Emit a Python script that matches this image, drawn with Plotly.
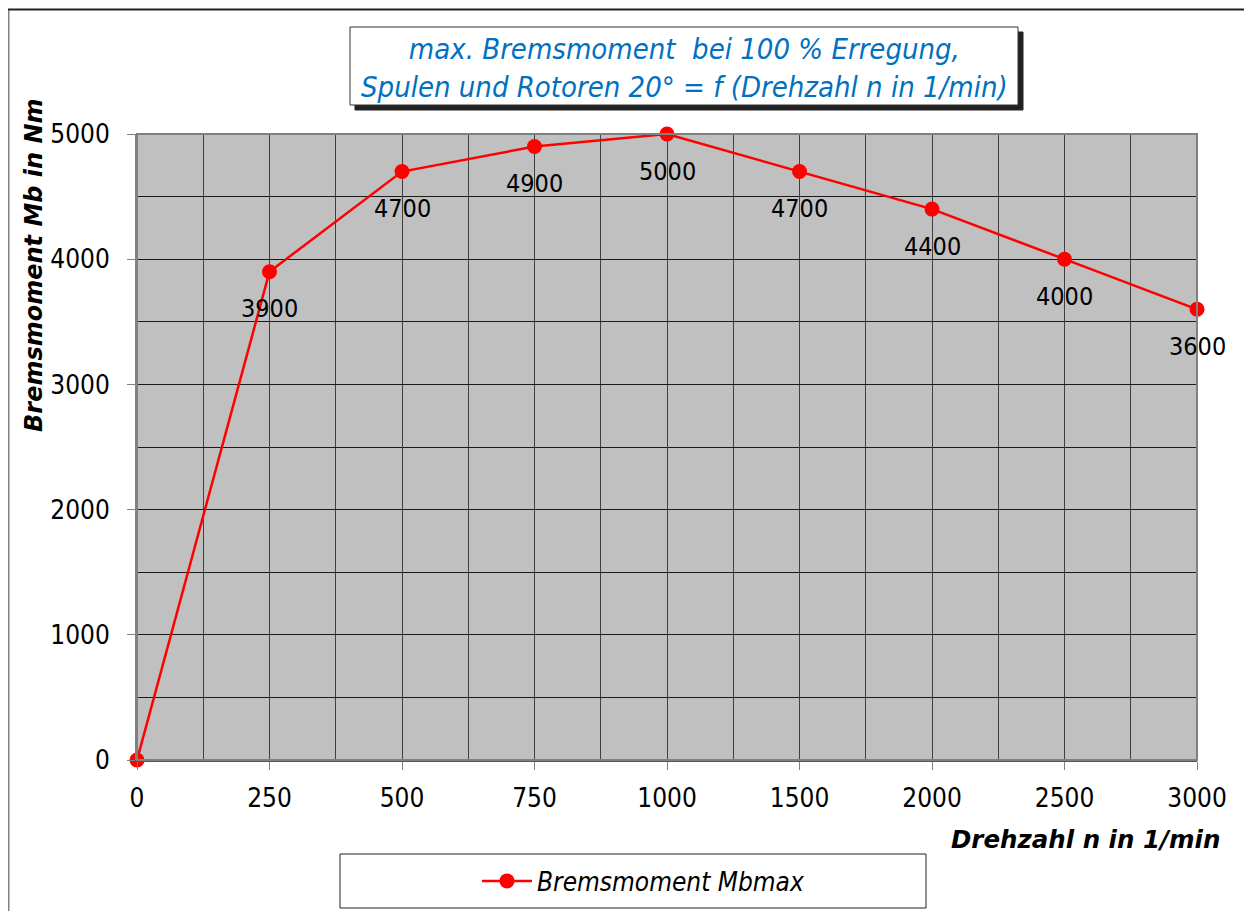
import plotly.graph_objects as go

categories = ["0", "250", "500", "750", "1000", "1500", "2000", "2500", "3000"]
torque = [0, 3900, 4700, 4900, 5000, 4700, 4400, 4000, 3600]
series_name = "Bremsmoment Mbmax"
title_lines = ["max. Bremsmoment  bei 100 % Erregung,", "Spulen und Rotoren 20° = f (Drehzahl n in 1/min)"]
x_title = "Drehzahl n in 1/min"
y_title = "Bremsmoment Mb in Nm"

FONT = "DejaVu Sans Condensed, DejaVu Sans, sans-serif"
FONT_B = "DejaVu Sans, sans-serif"
# page offset (body margin)
OX, OY = 8, 8
W, H = 1252 - 2 * OX, 919 - 2 * OY
# plot area in screen pixels
L, R, T, B = 137, 1197, 134, 760

def px(x):
    return (x - L) / (R - L)

def py(y):
    return (B - y) / (B - T)

xs = list(range(len(categories)))

fig = go.Figure()
fig.add_trace(go.Scatter(
    x=xs, y=torque, mode="lines+markers", name=series_name,
    line=dict(color="#FF0000", width=2.5),
    marker=dict(color="#FF0000", size=15),
    cliponaxis=False,
))

for xi, v in zip(xs, torque):
    if v == 0:
        continue
    fig.add_annotation(x=xi, y=v, text=str(v), showarrow=False, yshift=-37,
                       xanchor="center", yanchor="middle",
                       font=dict(family=FONT, size=25, color="black"))

shapes = []
# outer border
shapes.append(dict(type="line", xref="paper", yref="paper",
                   x0=px(8.5), x1=px(8.5), y0=py(9), y1=py(919),
                   line=dict(color="#808080", width=2)))
shapes.append(dict(type="line", xref="paper", yref="paper",
                   x0=px(8), x1=px(1252), y0=py(9.5), y1=py(9.5),
                   line=dict(color="#222222", width=2)))
# title box shadow and box
shapes.append(dict(type="rect", xref="paper", yref="paper",
                   x0=px(355), x1=px(1023), y0=py(32), y1=py(110),
                   line=dict(color="#222222", width=1), fillcolor="#222222"))
shapes.append(dict(type="rect", xref="paper", yref="paper",
                   x0=px(350), x1=px(1018), y0=py(27), y1=py(105),
                   line=dict(color="#333333", width=1), fillcolor="white"))
# legend box
shapes.append(dict(type="rect", xref="paper", yref="paper",
                   x0=px(340), x1=px(926), y0=py(854), y1=py(908),
                   line=dict(color="#222222", width=1), fillcolor="white"))
# plot area border (gray)
shapes.append(dict(type="rect", xref="paper", yref="paper",
                   x0=0, x1=1, y0=0, y1=1,
                   line=dict(color="#808080", width=2), fillcolor="rgba(0,0,0,0)", layer="above"))

fig.update_layout(shapes=shapes)

fig.add_annotation(xref="paper", yref="paper", x=px(684), y=py(68),
                   xanchor="center", yanchor="middle",
                   text="<i>" + "<br>".join(title_lines) + "</i>", showarrow=False,
                   font=dict(family=FONT, size=29, color="#0070C0"), align="center")
fig.add_annotation(xref="paper", yref="paper", x=px(1222), y=py(839),
                   xanchor="right", yanchor="middle",
                   text="<b><i>" + x_title + "</i></b>", showarrow=False,
                   font=dict(family=FONT_B, size=24.5, color="black"))
fig.add_annotation(xref="paper", yref="paper", x=px(34), y=py(265), textangle=-90,
                   xanchor="center", yanchor="middle",
                   text="<b><i>" + y_title + "</i></b>", showarrow=False,
                   font=dict(family=FONT_B, size=24, color="black"))

fig.update_xaxes(
    range=[0, len(categories) - 1], tickmode="array", tickvals=xs, ticktext=categories,
    showgrid=True, gridcolor="#404040", gridwidth=1,
    ticks="outside", ticklen=8, tickcolor="#808080",
    minor=dict(tickmode="linear", tick0=0, dtick=0.5, showgrid=True, gridcolor="#404040", gridwidth=1, ticks=""),
    showline=True, linecolor="#555555", linewidth=2, zeroline=False,
    tickfont=dict(family=FONT, size=26, color="black"), ticklabelstandoff=6,
    automargin=False,
)
fig.update_yaxes(
    range=[0, 5000], tickmode="linear", tick0=0, dtick=1000,
    showgrid=True, gridcolor="#1a1a1a", gridwidth=1,
    ticks="outside", ticklen=8, tickcolor="#808080",
    minor=dict(tickmode="linear", tick0=0, dtick=500, showgrid=True, gridcolor="#1a1a1a", gridwidth=1, ticks=""),
    showline=True, linecolor="#808080", linewidth=2, zeroline=False,
    tickfont=dict(family=FONT, size=26, color="black"), ticklabelstandoff=12,
    automargin=False,
)

fig.update_layout(
    width=W, height=H,
    margin=dict(l=L - OX, r=W - (R - OX), t=T - OY, b=H - (B - OY), pad=0, autoexpand=False),
    plot_bgcolor="#C0C0C0", paper_bgcolor="white",
    showlegend=True,
    legend=dict(xref="container", yref="container",
                x=(477 - OX) / W, y=1 - (881 - OY) / H, xanchor="left", yanchor="middle",
                bgcolor="rgba(0,0,0,0)", borderwidth=0, itemwidth=50,
                font=dict(family=FONT, size=26, color="black", style="italic")),
)

fig.write_html("out.html")
